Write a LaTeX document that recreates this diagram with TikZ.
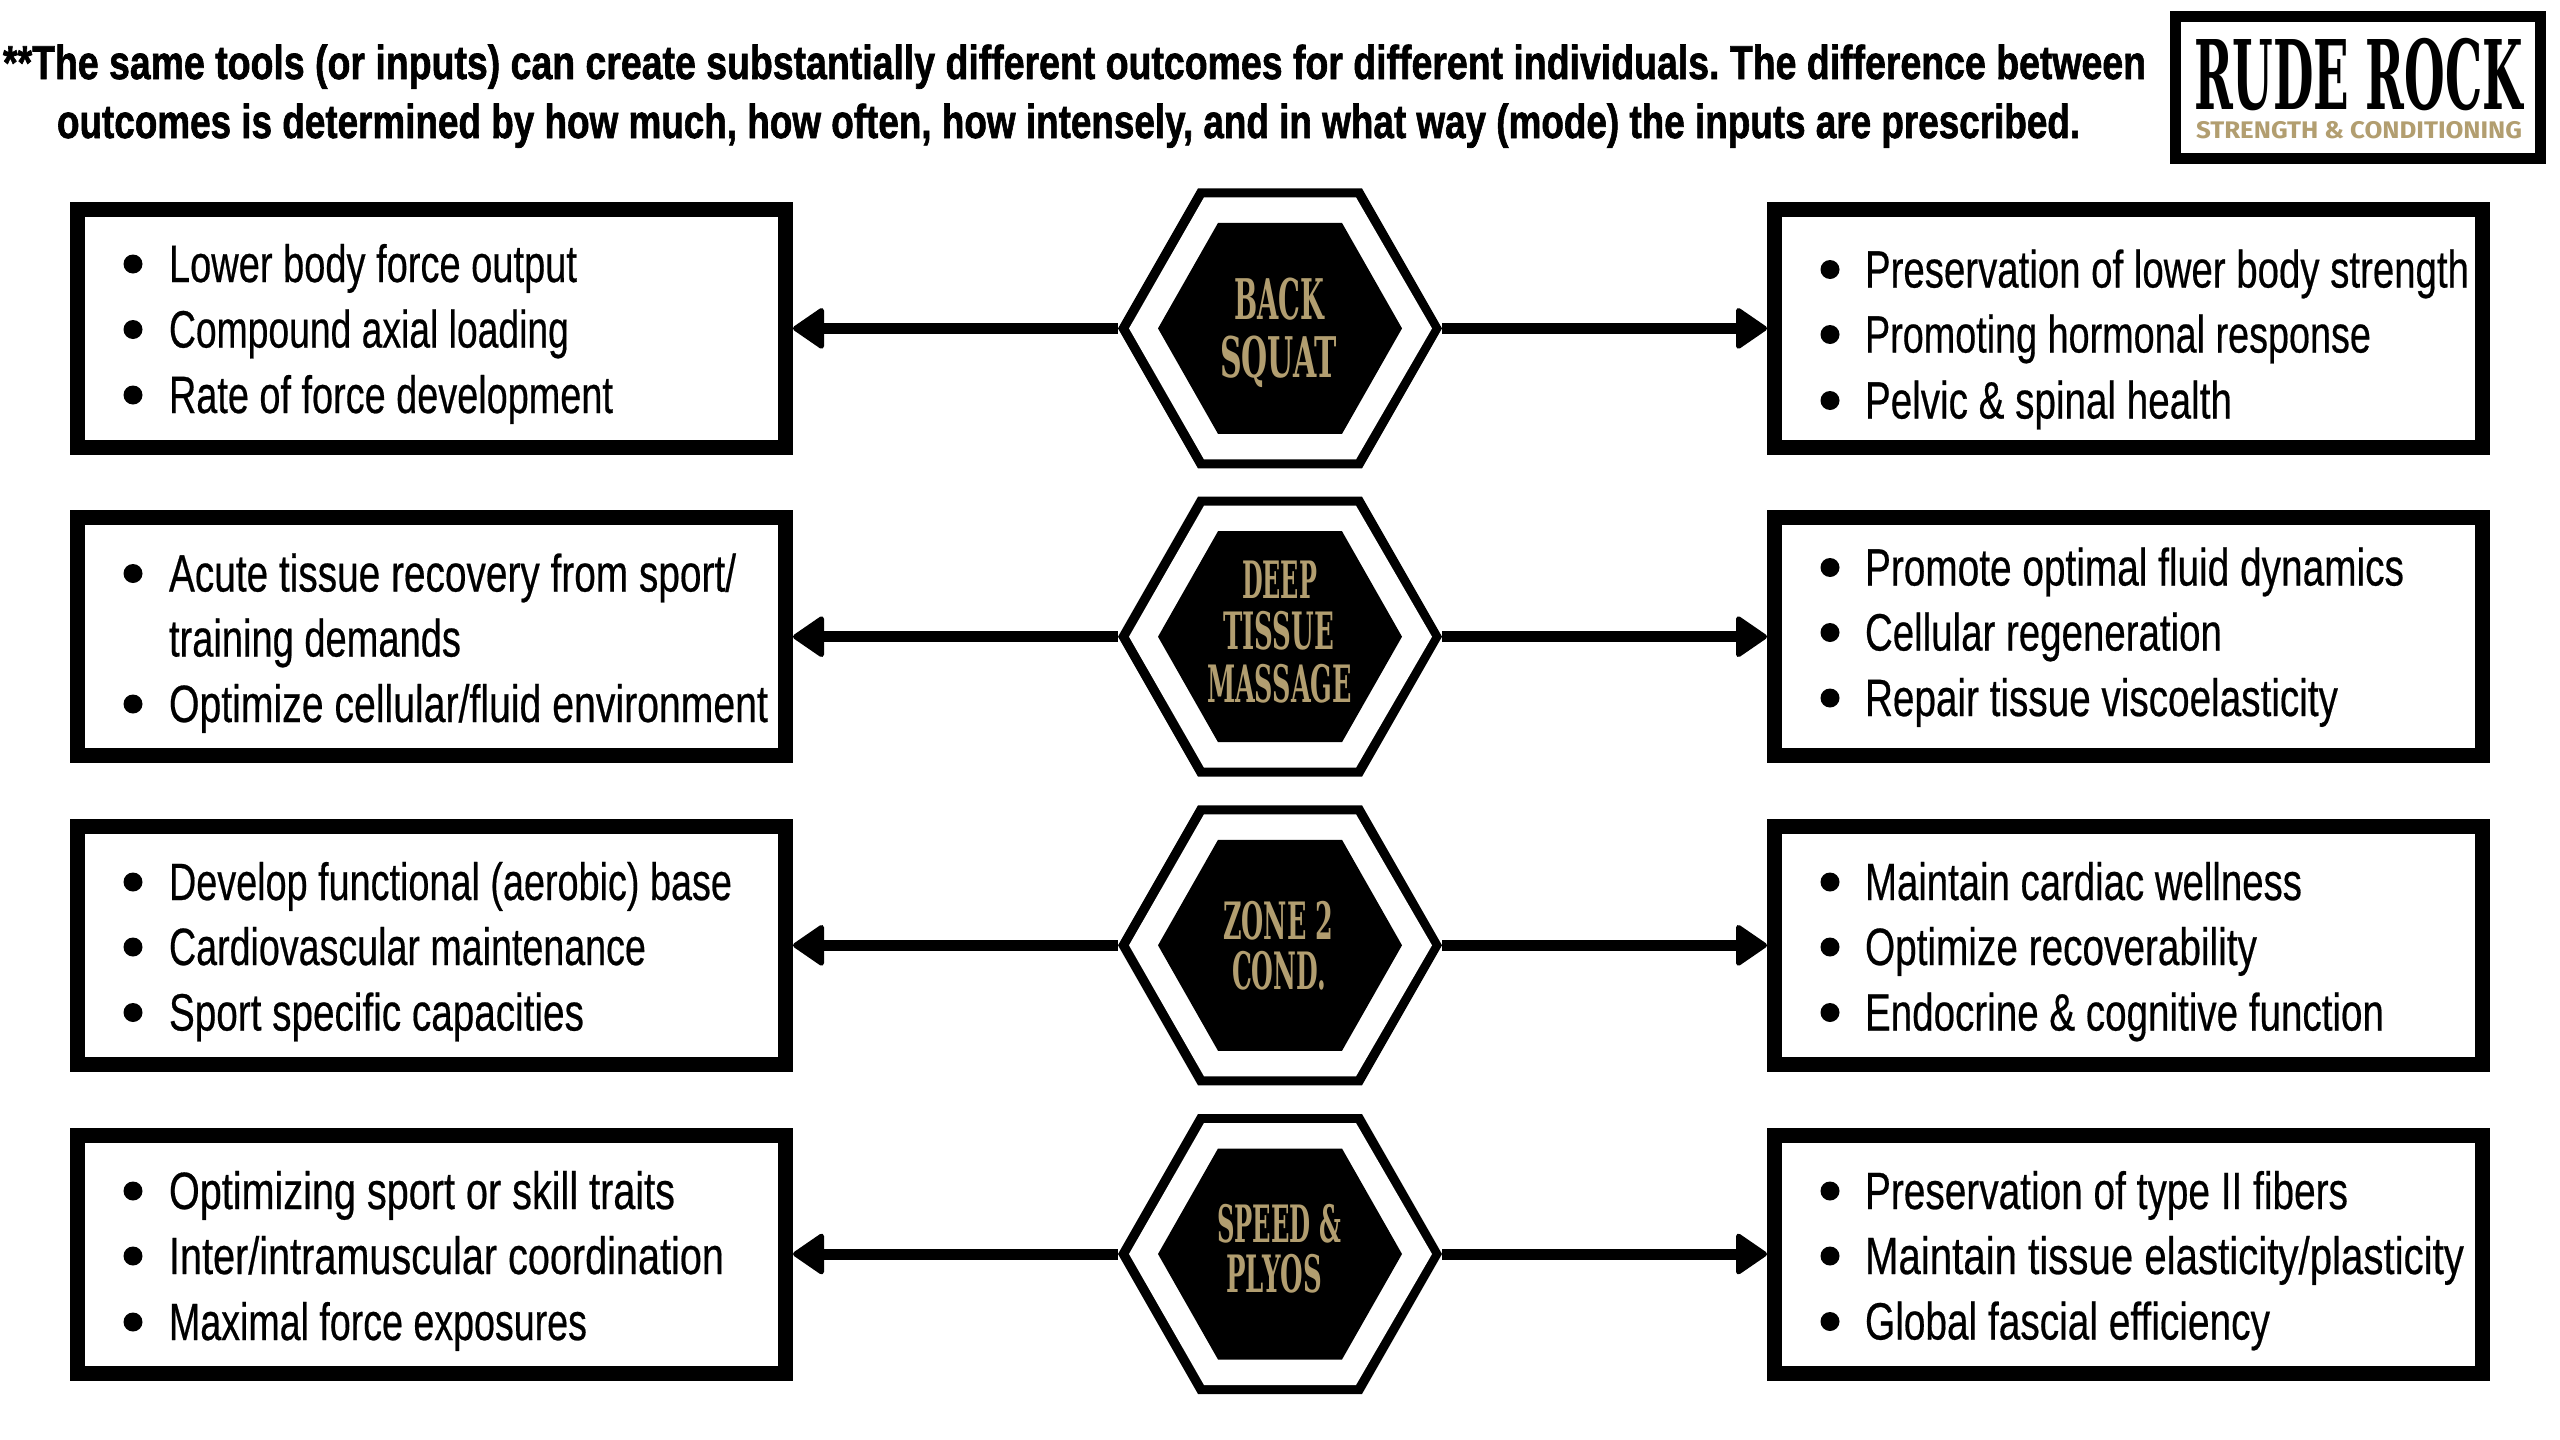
\documentclass[tikz,border=0pt]{standalone}
\usepackage{fontspec}
\usepackage{graphicx}
\usetikzlibrary{arrows.meta}
\setmainfont{Liberation Sans}[UprightFeatures={FakeBold=0.5},BoldFeatures={FakeBold=1.5}]
\newfontfamily\slabfont{DejaVu Serif}[BoldFont={DejaVu Serif Bold}]
\newfontfamily\logosub{Fira Sans}[BoldFont={Fira Sans Bold}]
\definecolor{gold}{HTML}{B29E70}
\frenchspacing
\newcommand\fitw[2]{\resizebox{#1pt}{\height}{#2}}
\tikzset{
  x=1pt,y=-1pt,
  txt/.style={inner sep=0pt,outer sep=0pt,anchor=base west,font=\fontsize{52.5}{60}\selectfont},
  head/.style={inner sep=0pt,outer sep=0pt,anchor=base west,font=\fontsize{47.5}{55}\selectfont\bfseries},
  hexlab/.style={inner sep=0pt,outer sep=0pt,anchor=base west,text=gold,font=\slabfont\fontsize{51.5}{58}\selectfont\bfseries},
  hexlabbig/.style={hexlab,font=\slabfont\fontsize{56}{60}\selectfont\bfseries},
  listbox/.style={draw=black,fill=white,line width=15pt,minimum width=708pt,minimum height=238pt,inner sep=0pt},
  dot/.style={circle,fill=black,inner sep=0pt,outer sep=0pt,minimum size=19pt},
  hexframe/.style={inner sep=0pt,outer sep=0pt,minimum width=324pt,minimum height=280pt},
  conn/.style={line width=11pt,-{Triangle[length=33pt,width=44pt,line width=5pt,round]}},
  logobox/.style={draw=black,fill=white,line width=11pt,minimum width=365pt,minimum height=142pt,inner sep=0pt}
}
% name, bullet x, text x, baseline y, width, text
\newcommand\itm[6]{%
  \node[dot] (b#1) at (#2,#4-18) {};
  \node[txt] (t#1) at (#3,#4) {\fitw{#5}{#6}};
}
% continuation line, no bullet
\newcommand\itmcont[5]{%
  \node[txt] (t#1) at (#2,#3) {\fitw{#4}{#5}};
}
\newcommand\hexa[2]{%
  \node[hexframe] (#1) at (1280,#2) {};
  \fill[black] (1118,#2) -- (1198,#2-140) -- (1362,#2-140) -- (1442,#2) -- (1362,#2+140) -- (1198,#2+140) -- cycle;
  \fill[white] (1129,#2) -- (1204,#2-131) -- (1356,#2-131) -- (1432,#2) -- (1356,#2+131) -- (1204,#2+131) -- cycle;
  \fill[black] (1158,#2) -- (1218,#2-105.5) -- (1342,#2-105.5) -- (1402,#2) -- (1342,#2+105.5) -- (1218,#2+105.5) -- cycle;
}
\newcommand\hexlabel[5]{\node[hexlab] (#1) at (#2,#3) {\fitw{#4}{#5}};}
\begin{document}
\begin{tikzpicture}
\useasboundingbox (0,0) rectangle (2560,1440);
\fill[white] (0,0) rectangle (2560,1440);
% heading
\node[head] (h1) at (3,79) {\fitw{2143}{**The same tools (or inputs) can create substantially different outcomes for different individuals. The difference between}};
\node[head] (h2) at (57,138) {\fitw{2023}{outcomes is determined by how much, how often, how intensely, and in what way (mode) the inputs are prescribed.}};
% logo
\node[logobox] (logo) at (2358,87.5) {};
\node[inner sep=0pt,outer sep=0pt,anchor=base west,font=\slabfont\fontsize{96}{100}\selectfont\bfseries] (logoa) at (2194,109) {\fitw{329}{RUDE ROCK}};
\node[inner sep=0pt,outer sep=0pt,anchor=base west,text=gold,font=\logosub\fontsize{24}{28}\selectfont\bfseries] (logob) at (2196,138) {\fitw{326}{STRENGTH \& CONDITIONING}};
% boxes
\foreach \n/\y in {1/328.4,2/636.7,3/945.3,4/1254}{
  \node[listbox] (L\n) at (431.5,\y) {};
  \node[listbox] (R\n) at (2128.5,\y) {};
  \hexa{H\n}{\y}
  \draw[conn] (H\n.west) -- (L\n.east);
  \draw[conn] (H\n.east) -- (R\n.west);
}
% hex labels
\node[hexlabbig] (q1) at (1234,319) {\fitw{90}{BACK}};
\node[hexlabbig] (q2) at (1220,377) {\fitw{117}{SQUAT}};
\hexlabel{q3}{1242}{598}{75}{DEEP}
\hexlabel{q4}{1223}{649}{111}{TISSUE}
\hexlabel{q5}{1207}{702}{145}{MASSAGE}
\hexlabel{q6}{1223}{939}{110}{ZONE 2}
\hexlabel{q7}{1232}{989}{94}{COND.}
\hexlabel{q8}{1217}{1242}{124}{SPEED \&}
\hexlabel{q9}{1226}{1292}{96}{PLYOS}
% left lists
\itm{a1}{133}{169}{282}{408}{Lower body force output}
\itm{a2}{133}{169}{347.5}{400}{Compound axial loading}
\itm{a3}{133}{169}{413}{444}{Rate of force development}
\itm{a4}{133}{169}{591.5}{567}{Acute tissue recovery from sport/}
\itmcont{a5}{169}{656.5}{292}{training demands}
\itm{a6}{133}{169}{722}{599}{Optimize cellular/fluid environment}
\itm{a7}{133}{169}{900}{563}{Develop functional (aerobic) base}
\itm{a8}{133}{169}{965}{477}{Cardiovascular maintenance}
\itm{a9}{133}{169}{1030.5}{415}{Sport specific capacities}
\itm{a10}{133}{169}{1209}{506}{Optimizing sport or skill traits}
\itm{a11}{133}{169}{1274}{555}{Inter/intramuscular coordination}
\itm{a12}{133}{169}{1340}{418}{Maximal force exposures}
% right lists
\itm{c1}{1830}{1865}{287.5}{604}{Preservation of lower body strength}
\itm{c2}{1830}{1865}{352.5}{506}{Promoting hormonal response}
\itm{c3}{1830}{1865}{418.5}{367}{Pelvic \& spinal health}
\itm{c4}{1830}{1865}{585.5}{539}{Promote optimal fluid dynamics}
\itm{c5}{1830}{1865}{650.5}{357}{Cellular regeneration}
\itm{c6}{1830}{1865}{716}{473}{Repair tissue viscoelasticity}
\itm{c7}{1830}{1865}{900}{437}{Maintain cardiac wellness}
\itm{c8}{1830}{1865}{965}{392}{Optimize recoverability}
\itm{c9}{1830}{1865}{1030.5}{519}{Endocrine \& cognitive function}
\itm{c10}{1830}{1865}{1209}{483}{Preservation of type II fibers}
\itm{c11}{1830}{1865}{1274}{599}{Maintain tissue elasticity/plasticity}
\itm{c12}{1830}{1865}{1339.5}{405}{Global fascial efficiency}
\end{tikzpicture}
\end{document}
